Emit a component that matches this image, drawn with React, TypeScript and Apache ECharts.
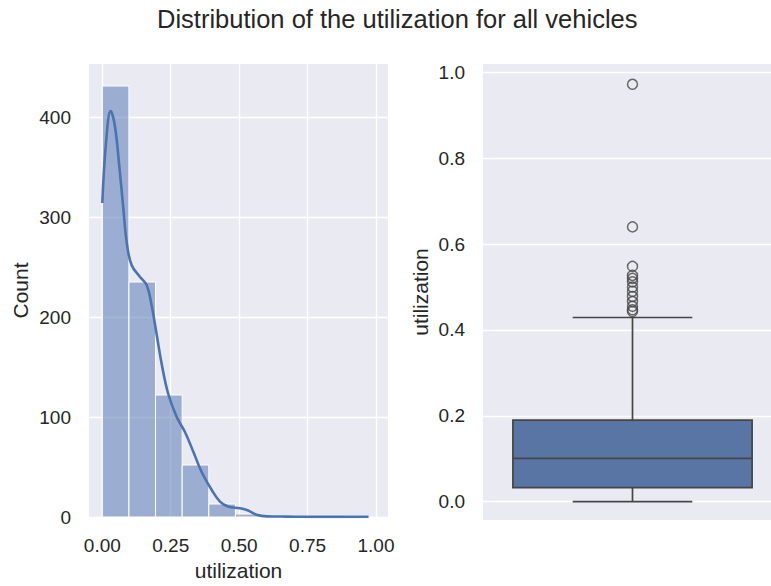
import React, { useEffect, useRef } from "react";
import * as echarts from "echarts";

// Histogram (left panel)
const binEdges = [0, 0.0973, 0.1946, 0.2919, 0.3892, 0.4865, 0.5838, 0.6811, 0.7784, 0.8757, 0.973];
const binCounts = [431, 235, 122, 52, 13, 3, 1, 0, 0, 1];

// KDE curve
const kdeX = [0, 0.0135, 0.0306, 0.046, 0.062, 0.077, 0.089, 0.107, 0.138, 0.162, 0.18, 0.199, 0.217, 0.241, 0.272, 0.302, 0.333, 0.363, 0.4, 0.43, 0.46, 0.503, 0.533, 0.564, 0.601, 0.64, 0.67, 0.77, 0.89, 0.973];
const kdeY = [314, 374, 406, 391, 351, 308, 275, 252, 240, 232, 212, 182, 153, 123, 100, 85, 65, 45, 27, 15.4, 10.4, 8.7, 6.5, 2.2, 0.6, 0.5, 0.4, 0.1, 0.1, 0.3];

// Boxplot (right panel)
const boxStats = [0.0, 0.0326, 0.101, 0.19, 0.429]; // min, Q1, median, Q3, max whisker
const outliers = [0.972, 0.64, 0.548, 0.527, 0.52, 0.512, 0.5, 0.49, 0.478, 0.466, 0.455, 0.447, 0.443];

// Ticks
const leftXTicks = [0, 0.25, 0.5, 0.75, 1.0];
const leftYTicks = [0, 100, 200, 300, 400];
const rightYTicks = [0, 0.2, 0.4, 0.6, 0.8, 1.0];

const FONT = "Liberation Sans, Arial, sans-serif";
const TEXT = "#262626";
const BG = "#EAEAF2";
const BLUE = "#4C72B0";
const BOX = "#5975A4";
const LINE = "#464646";

export default function App() {
  const ref = useRef<HTMLDivElement>(null);
  useEffect(() => {
    if (!ref.current) return;
    const chart = echarts.init(ref.current, undefined, { renderer: "svg" });
    const tickLabel = { color: TEXT, fontSize: 19, fontFamily: FONT };
    const nameStyle = { color: TEXT, fontSize: 21, fontFamily: FONT };
    const split = { show: true, lineStyle: { color: "#ffffff", width: 1.4 } };

    const bars = binCounts.map((c, i) => [binEdges[i], binEdges[i + 1], c]);
    const kde = kdeX.map((x, i) => [x, kdeY[i]]);

    chart.setOption({
      animation: false,
      backgroundColor: "#ffffff",
      title: {
        text: "Distribution of the utilization for all vehicles",
        left: 152,
        top: 1,
        textStyle: { color: TEXT, fontSize: 25.5, fontWeight: "normal", fontFamily: FONT },
      },
      grid: [
        { left: 89, top: 64, width: 299, height: 456, show: true, backgroundColor: BG, borderWidth: 0, containLabel: false },
        { left: 483, top: 64, width: 299, height: 456, show: true, backgroundColor: BG, borderWidth: 0, containLabel: false },
      ],
      xAxis: [
        {
          type: "value",
          gridIndex: 0,
          min: -0.0486,
          max: 1.044,
          axisLine: { show: false },
          axisTick: { show: false, customValues: leftXTicks },
          axisLabel: { ...tickLabel, margin: 19, customValues: leftXTicks, formatter: (v: number) => v.toFixed(2) },
          splitLine: split,
          name: "utilization",
          nameLocation: "middle",
          nameGap: 43,
          nameTextStyle: nameStyle,
        },
        {
          type: "category",
          gridIndex: 1,
          data: [""],
          axisLine: { show: false },
          axisTick: { show: false },
          axisLabel: { show: false },
          splitLine: { show: false },
        },
      ],
      yAxis: [
        {
          type: "value",
          gridIndex: 0,
          min: 0,
          max: 453,
          axisLine: { show: false },
          axisTick: { show: false, customValues: leftYTicks },
          axisLabel: { ...tickLabel, margin: 18, customValues: leftYTicks },
          splitLine: split,
          name: "Count",
          nameLocation: "middle",
          nameGap: 58,
          nameTextStyle: nameStyle,
        },
        {
          type: "value",
          gridIndex: 1,
          min: -0.0426,
          max: 1.0193,
          axisLine: { show: false },
          axisTick: { show: false, customValues: rightYTicks },
          axisLabel: { ...tickLabel, margin: 18, customValues: rightYTicks, formatter: (v: number) => v.toFixed(1) },
          splitLine: split,
          name: "utilization",
          nameLocation: "middle",
          nameGap: 52,
          nameTextStyle: nameStyle,
        },
      ],
      series: [
        {
          type: "custom",
          xAxisIndex: 0,
          yAxisIndex: 0,
          data: bars,
          encode: { x: [0, 1], y: 2 },
          renderItem: (params: any, api: any) => {
            const p0 = api.coord([api.value(0), api.value(2)]);
            const p1 = api.coord([api.value(1), 0]);
            return {
              type: "rect",
              shape: { x: p0[0], y: p0[1], width: p1[0] - p0[0], height: p1[1] - p0[1] },
              style: { fill: "rgba(76,114,176,0.5)", stroke: "#ffffff", lineWidth: 1 },
            };
          },
        },
        {
          type: "line",
          xAxisIndex: 0,
          yAxisIndex: 0,
          data: kde,
          smooth: 0.4,
          symbol: "none",
          lineStyle: { color: BLUE, width: 2.6 },
          z: 3,
        },
        {
          type: "custom",
          xAxisIndex: 1,
          yAxisIndex: 1,
          data: [[0, ...boxStats]],
          encode: { x: 0, y: [1, 2, 3, 4, 5] },
          renderItem: (params: any, api: any) => {
            const band = api.size([1, 0])[0];
            const c = api.coord([api.value(0), api.value(1)]);
            const cx = c[0];
            const yMin = c[1];
            const yQ1 = api.coord([api.value(0), api.value(2)])[1];
            const yMed = api.coord([api.value(0), api.value(3)])[1];
            const yQ3 = api.coord([api.value(0), api.value(4)])[1];
            const yMax = api.coord([api.value(0), api.value(5)])[1];
            const bw = band * 0.8;
            const cw = bw * 0.5;
            const ls = { stroke: LINE, lineWidth: 1.7 };
            return {
              type: "group",
              children: [
                { type: "line", shape: { x1: cx, y1: yQ1, x2: cx, y2: yMin }, style: ls },
                { type: "line", shape: { x1: cx, y1: yQ3, x2: cx, y2: yMax }, style: ls },
                { type: "line", shape: { x1: cx - cw / 2, y1: yMin, x2: cx + cw / 2, y2: yMin }, style: ls },
                { type: "line", shape: { x1: cx - cw / 2, y1: yMax, x2: cx + cw / 2, y2: yMax }, style: ls },
                { type: "rect", shape: { x: cx - bw / 2, y: yQ3, width: bw, height: yQ1 - yQ3 }, style: { fill: BOX, stroke: LINE, lineWidth: 1.7 } },
                { type: "line", shape: { x1: cx - bw / 2, y1: yMed, x2: cx + bw / 2, y2: yMed }, style: ls },
              ],
            };
          },
        },
        {
          type: "scatter",
          xAxisIndex: 1,
          yAxisIndex: 1,
          data: outliers.map((v) => [0, v]),
          symbol: "circle",
          symbolSize: 10,
          itemStyle: { color: "rgba(0,0,0,0)", borderColor: LINE, borderWidth: 1.5 },
          z: 4,
        },
      ],
    });
    return () => chart.dispose();
  }, []);
  return (
    <div style={{ position: "absolute", left: 0, top: 0, width: 771, height: 586, overflow: "hidden" }}>
      <div ref={ref} style={{ width: 800, height: 586 }} />
    </div>
  );
}
